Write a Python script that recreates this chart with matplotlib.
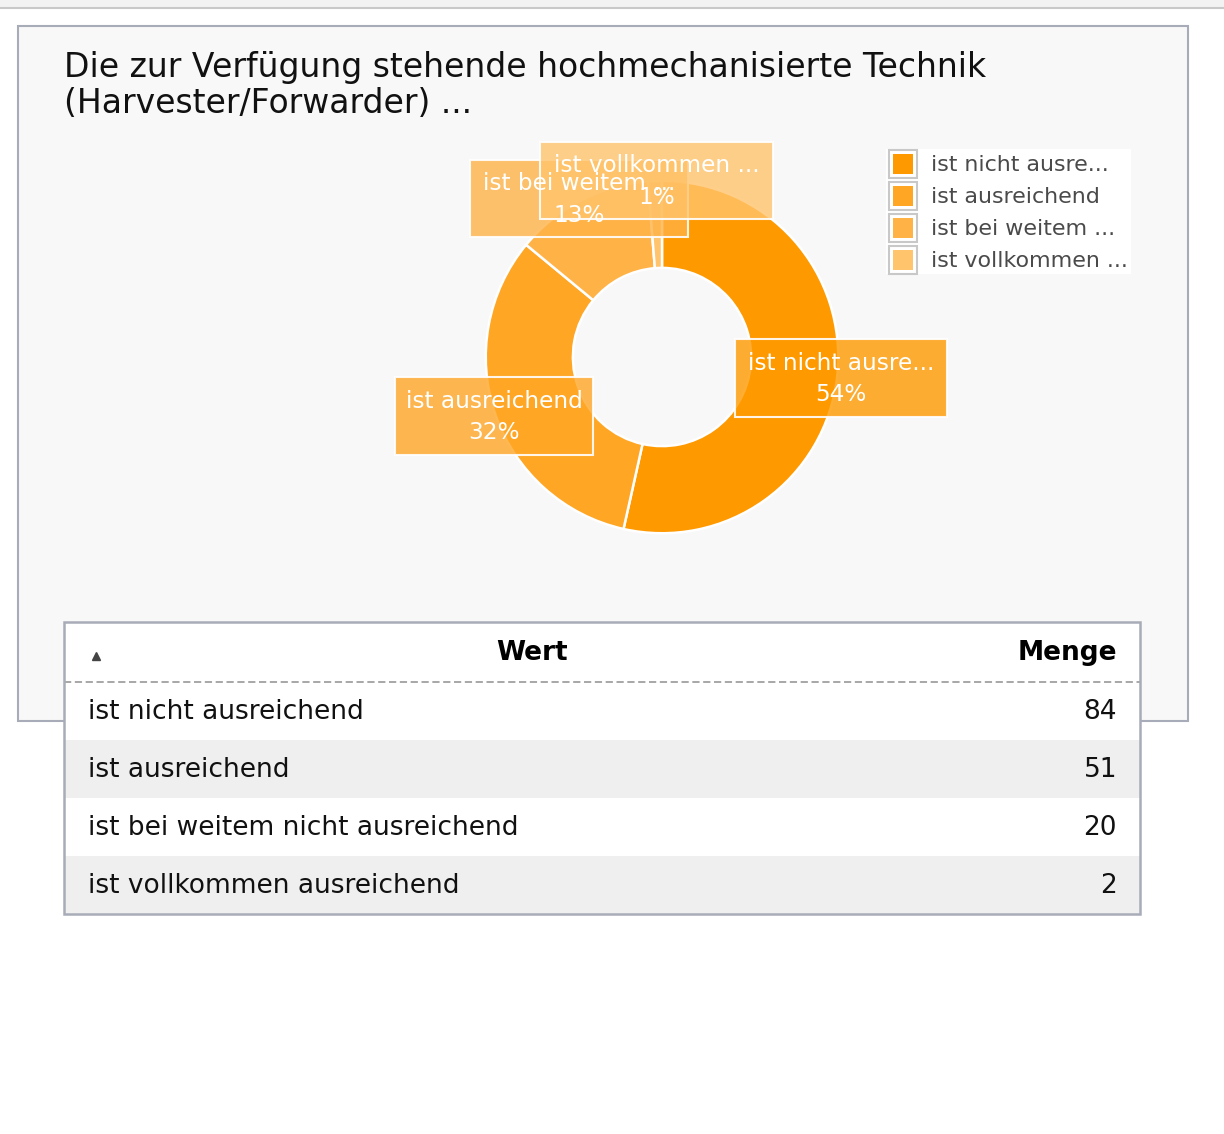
import matplotlib
matplotlib.use('Agg')
import matplotlib.pyplot as plt
from matplotlib.patches import Rectangle

# survey answers and counts
answers = ['ist nicht ausreichend', 'ist ausreichend',
           'ist bei weitem nicht ausreichend', 'ist vollkommen ausreichend']
counts = [84, 51, 20, 2]
slice_colors = ['#ff9900', '#ffa625', '#ffb246', '#ffc46c']
title = 'Die zur Verfügung stehende hochmechanisierte Technik\n(Harvester/Forwarder) ...'

W, H = 1224, 1134


# cut long names like the chart does
def short(name, n=15):
    return name if len(name) <= n else name[:n] + '...'


fig = plt.figure(figsize=(W / 100, H / 100), dpi=100)
fig.patch.set_facecolor('white')

# background layer in pixel coordinates
bg = fig.add_axes([0, 0, 1, 1], zorder=0)
bg.set_xlim(0, W)
bg.set_ylim(H, 0)
bg.axis('off')

bg.add_patch(Rectangle((0, 0), W, 7, facecolor='#f2f2f2', edgecolor='none'))
bg.plot([0, W], [7.5, 7.5], color='#c8c8c8', lw=1.5)

# chart panel
bg.add_patch(Rectangle((18, 26), 1170, 695, facecolor='#f8f8f8',
                       edgecolor='#a8acb8', lw=1.5))
bg.text(64, 51, title, fontsize=23.8, color='#111111', va='top', ha='left',
        linespacing=1.12)

# legend
bg.add_patch(Rectangle((886, 149), 245, 125, facecolor='white', edgecolor='none'))
for i, ans in enumerate(answers):
    y = 150 + i * 32
    bg.add_patch(Rectangle((889, y), 28, 28, facecolor='white',
                           edgecolor='#c8c8c8', lw=1.5))
    bg.add_patch(Rectangle((893, y + 4), 20, 20, facecolor=slice_colors[i],
                           edgecolor='none'))
    bg.text(931, y + 15, short(ans), fontsize=15.9, color='#4a4a4a',
            va='center', ha='left')

# table
tx0, tx1 = 64, 1140
ty0 = 622
head_h = 60
row_h = 58
for i, (ans, c) in enumerate(zip(answers, counts)):
    y = ty0 + head_h + i * row_h
    bg.add_patch(Rectangle((tx0, y), tx1 - tx0, row_h,
                           facecolor='white' if i % 2 == 0 else '#efefef',
                           edgecolor='none', zorder=2))
    bg.text(88, y + row_h / 2 + 1, ans, fontsize=19, color='#111111',
            va='center', ha='left', zorder=3)
    bg.text(1117, y + row_h / 2 + 1, str(c), fontsize=19, color='#111111',
            va='center', ha='right', zorder=3)
bg.add_patch(Rectangle((tx0, ty0), tx1 - tx0, head_h, facecolor='white',
                       edgecolor='none', zorder=2))
bg.plot([tx0, tx1], [ty0 + head_h, ty0 + head_h], color='#a0a0a0', lw=1.3,
        ls=(0, (4, 2)), zorder=3)
bg.add_patch(Rectangle((tx0, ty0), tx1 - tx0, head_h + row_h * len(answers),
                       facecolor='none', edgecolor='#a8acb8', lw=1.8, zorder=4))
bg.text(532, ty0 + 31, 'Wert', fontsize=19, fontweight='bold', color='black',
        va='center', ha='center', zorder=3)
bg.text(1117, ty0 + 31, 'Menge', fontsize=19, fontweight='bold', color='black',
        va='center', ha='right', zorder=3)
bg.plot([96], [656], marker='^', color='#444444', ms=6, zorder=3)

# donut
cx, cy, r_out, r_in = 662, 357, 178, 90
pie_ax = fig.add_axes([(cx - r_out) / W, 1 - (cy + r_out) / H,
                       2 * r_out / W, 2 * r_out / H], zorder=1)
pie_ax.pie(counts, colors=slice_colors, startangle=90, counterclock=False,
           radius=1, wedgeprops=dict(width=1 - r_in / r_out, edgecolor='white',
                                     linewidth=1.8))
pie_ax.set_xlim(-1.01, 1.01)
pie_ax.set_ylim(-1.01, 1.01)
pie_ax.set_aspect('equal')
pie_ax.axis('off')

# slice labels on top
lab = fig.add_axes([0, 0, 1, 1], zorder=2)
lab.set_xlim(0, W)
lab.set_ylim(H, 0)
lab.axis('off')
lab.patch.set_alpha(0)

total = sum(counts)
boxes = [(735, 339, 212, 78), (395, 377, 198, 78),
         (470, 160, 218, 77), (540, 142, 233, 77)]
for i in [0, 1, 2, 3]:
    x, y, w, h = boxes[i]
    pct = round(counts[i] / total * 100)
    lab.add_patch(Rectangle((x, y), w, h, facecolor=slice_colors[i], alpha=0.8,
                            edgecolor='none'))
    lab.add_patch(Rectangle((x, y), w, h, facecolor='none', edgecolor='white',
                            lw=1.5, alpha=0.9))
    lab.text(x + w / 2, y + h / 2 + 1, short(answers[i]) + '\n' + str(pct) + '%',
             fontsize=16.7, color='white', ha='center', va='center',
             linespacing=1.45)

fig.savefig('out.png', dpi=100)
